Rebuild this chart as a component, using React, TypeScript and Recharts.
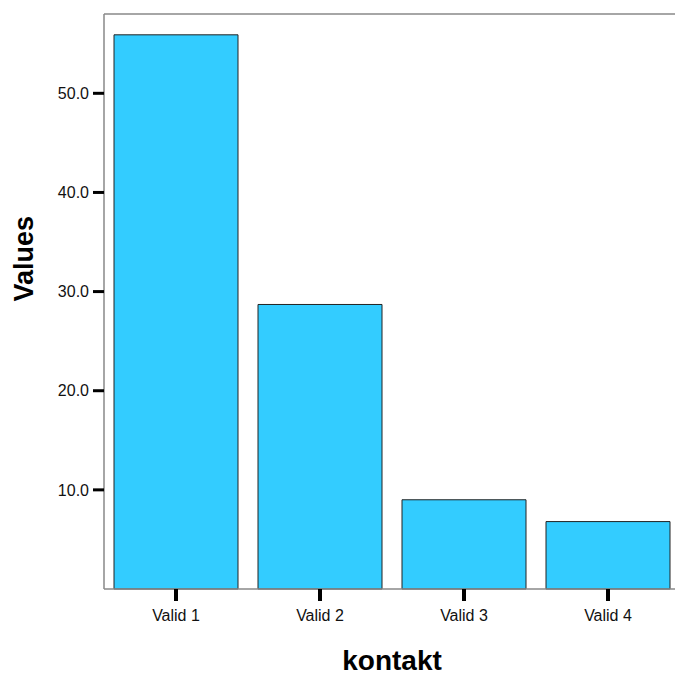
import React from "react";
import {Bar, BarChart, ReferenceLine, XAxis, YAxis} from "recharts";

const categories = ["Valid 1", "Valid 2", "Valid 3", "Valid 4"];
const values = [55.9, 28.7, 9.0, 6.8];
const yTicks = [10, 20, 30, 40, 50];

const data = categories.map((name, i) => ({name, value: values[i]}));

const font = "'Liberation Sans', Arial, sans-serif";

export default function App() {
    return (
        <div style={{position: "absolute", left: 0, top: 0, width: 675, height: 677, overflow: "hidden", background: "#fff"}}>
            <BarChart
                width={680}
                height={677}
                data={data}
                margin={{top: 14, right: 0, left: 0, bottom: 0}}
                barCategoryGap={10}
            >
                <XAxis
                    dataKey="name"
                    height={88}
                    axisLine={{stroke: "#888", strokeWidth: 1.5}}
                    tickLine={{stroke: "#000", strokeWidth: 4}}
                    tickSize={12}
                    tickMargin={9}
                    tick={{fill: "#111", fontSize: 16, fontFamily: font}}
                    label={{value: "kontakt", position: "insideBottom", offset: 7, fill: "#000", fontSize: 28, fontWeight: "bold", fontFamily: font}}
                />
                <YAxis
                    width={104}
                    domain={[0, 58]}
                    ticks={yTicks}
                    tickFormatter={(v) => v.toFixed(1)}
                    axisLine={{stroke: "#888", strokeWidth: 1.5}}
                    tickLine={{stroke: "#000", strokeWidth: 3}}
                    tickSize={11}
                    tickMargin={4}
                    tick={{fill: "#111", fontSize: 16, fontFamily: font}}
                    label={{value: "Values", angle: -90, position: "insideLeft", offset: 23, fill: "#000", fontSize: 27, fontWeight: "bold", fontFamily: font}}
                />
                <ReferenceLine y={58} stroke="#888" strokeWidth={1.5} />
                <Bar dataKey="value" fill="#33ccff" stroke="#222" strokeWidth={1} isAnimationActive={false} />
            </BarChart>
        </div>
    );
}
